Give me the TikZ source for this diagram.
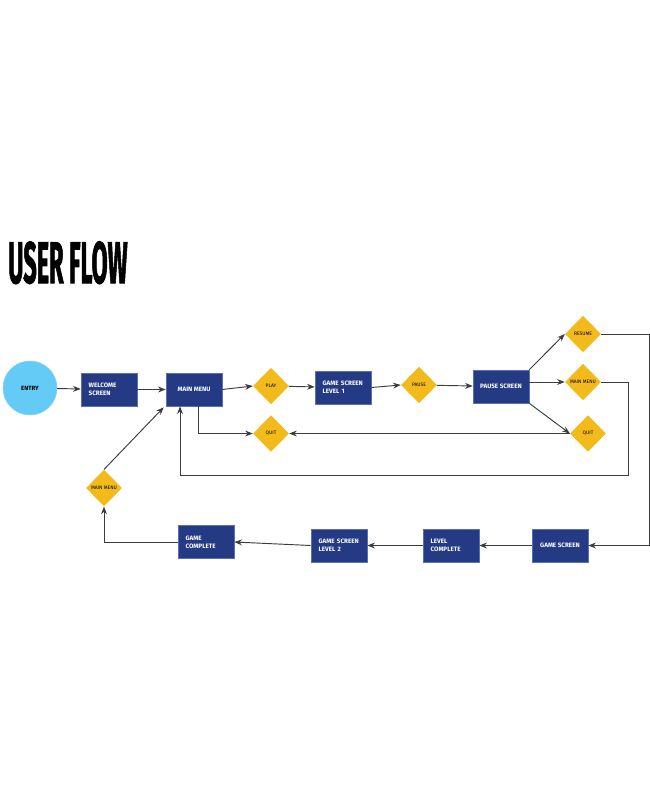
\documentclass[tikz,border=0pt]{standalone}
\usepackage{fontspec}
\setsansfont{Fira Sans}
\usepackage{graphicx}
\usetikzlibrary{arrows.meta,positioning,calc,shapes.geometric}
\definecolor{boxblue}{HTML}{253A84}
\definecolor{boxedge}{HTML}{5A6FB0}
\definecolor{choiceyellow}{HTML}{F2BA1A}
\definecolor{entryblue}{HTML}{63CBF5}
\definecolor{linegray}{HTML}{3C3C3C}

\begin{document}
\begin{tikzpicture}[
      x=0.03cm, y=-0.03cm,
      >={Stealth[length=6.5pt,width=5pt]},
      screen/.style={draw=boxedge, line width=0.5pt, fill=boxblue, text=white, minimum width=1.68cm, minimum height=0.99cm, inner sep=0pt, font=\sffamily\bfseries\fontsize{5.4}{6.8}\selectfont},
      lscreen/.style={screen, text width=1.22cm, align=left},
      choice/.style={diamond, fill=choiceyellow, minimum width=1.08cm, minimum height=1.1cm, inner sep=0pt, aspect=1, font=\sffamily\fontsize{4.2}{5}\selectfont},
      entry/.style={circle, fill=entryblue, draw=entryblue!85!white, minimum size=1.62cm, inner sep=0pt, font=\sffamily\bfseries\fontsize{5.2}{6}\selectfont},
      flow/.style={->, draw=linegray, line width=0.8pt}]
    \useasboundingbox (0,0) rectangle (650,800);
    % title
    \node[anchor=base west, inner sep=0pt] (title) at (8,283) {\scalebox{0.4}[1]{\sffamily\bfseries\addfontfeature{FakeBold=2}\fontsize{50}{50}\selectfont USER FLOW}};
    % top row
    \node[entry] (entry) at (30,388) {ENTRY};
    \node[lscreen] (welcome) at (109,389.5) {WELCOME\\SCREEN};
    \node[screen] (mainmenu) at (194,389.5) {MAIN MENU};
    \node[choice] (play) at (271,386) {PLAY};
    \node[lscreen] (level1) at (343,387.5) {GAME SCREEN\\LEVEL 1};
    \node[choice] (pause) at (419,385) {PAUSE};
    \node[screen] (pausescr) at (501,386.5) {PAUSE SCREEN};
    % pause choices
    \node[choice] (resume) at (583,334) {RESUME};
    \node[choice] (menuR) at (583,382) {MAIN MENU};
    \node[choice] (quitR) at (588,433.5) {QUIT};
    \node[choice] (quitL) at (271,433.5) {QUIT};
    \node[choice] (menuL) at (104,488) {MAIN MENU};
    % bottom row
    \node[lscreen] (gamecomp) at (206,542) {GAME\\COMPLETE};
    \node[lscreen] (level2) at (339,545.5) {GAME SCREEN\\LEVEL 2};
    \node[lscreen] (levelcomp) at (451,545.5) {LEVEL\\COMPLETE};
    \node[screen] (gamescr) at (560,545.5) {GAME SCREEN};
    % loop corners
    \coordinate (resumecorner) at (649,545.5);
    \coordinate (menucorner) at (628,475);
    % arrows
    \draw[flow] (entry) -- (welcome);
    \draw[flow] (welcome) -- (mainmenu);
    \draw[flow] (mainmenu.east) -- (play.west);
    \draw[flow] (play) -- (level1);
    \draw[flow] (level1.east) -- (pause.west);
    \draw[flow] (pause) -- (pausescr);
    \draw[flow] (pausescr.north east) -- (resume.west);
    \draw[flow] (pausescr.east |- menuR) -- (menuR.west);
    \draw[flow] (pausescr.south east) -- (quitR.west);
    \draw[flow] (resume.east) -| (resumecorner) -- (gamescr.east);
    \draw[flow] (menuR.east) -| (menucorner) -| ($(mainmenu.south)+(-14,0)$);
    \draw[flow] (quitR.west) -- (quitL.east);
    \draw[flow] ($(mainmenu.south)+(4,0)$) |- (quitL.west);
    \draw[flow] (gamescr) -- (levelcomp);
    \draw[flow] (levelcomp) -- (level2);
    \draw[flow] (level2.west) -- (gamecomp.east);
    \draw[flow] (gamecomp.west) -| (menuL.south);
    \draw[flow] (menuL.north) -- ($(mainmenu.south west)+(-2,1)$);
  \end{tikzpicture}
\end{document}
